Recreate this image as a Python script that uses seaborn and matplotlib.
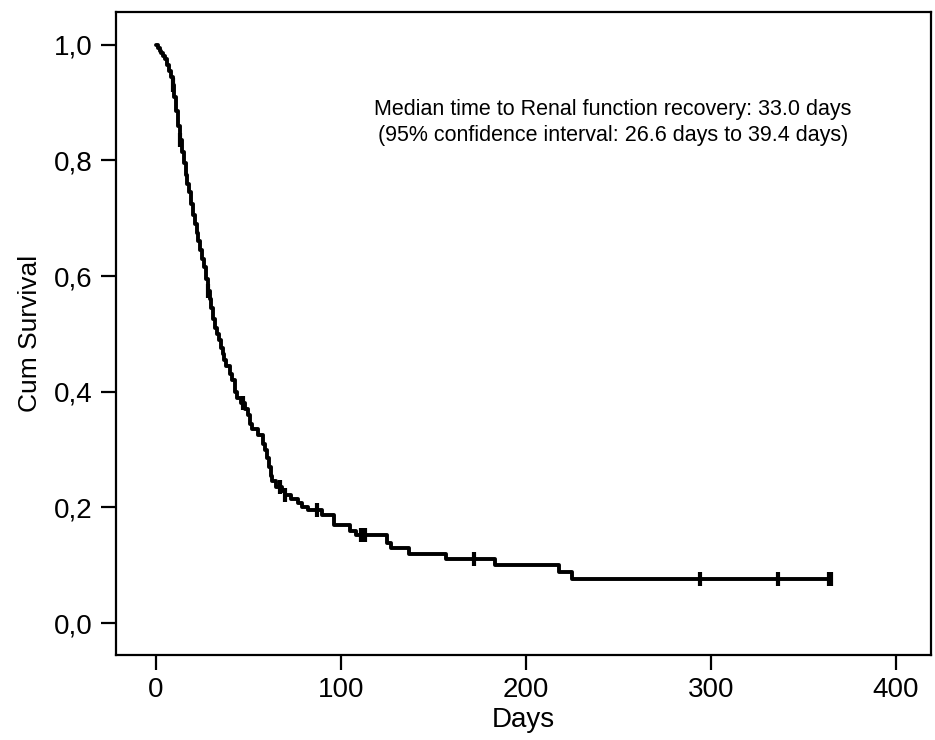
import matplotlib.pyplot as plt
import numpy as np
import pandas as pd
import seaborn as sns

# Kaplan-Meier estimate (day, survival after step)
days = [0, 1, 2, 3, 4, 5, 6, 7, 8, 9, 10, 11, 12, 13, 14, 15, 16, 17, 18,
        19, 20, 21, 22, 23, 24, 25, 26, 27, 28, 29, 30, 31, 32, 33, 34, 35,
        36, 37, 38, 40, 41, 43, 44, 46, 48, 50, 51, 52, 55, 58, 59, 60, 61,
        62, 63, 65, 68, 70, 73, 77, 79, 82, 90, 96, 105, 108, 125, 127, 137,
        157, 183, 218, 225, 365]
survival = [1.0, 0.995, 0.99, 0.985, 0.98, 0.975, 0.965, 0.955, 0.945, 0.93,
            0.91, 0.885, 0.86, 0.835, 0.815, 0.795, 0.775, 0.76, 0.745,
            0.725, 0.705, 0.69, 0.675, 0.66, 0.645, 0.63, 0.615, 0.595,
            0.575, 0.56, 0.545, 0.525, 0.51, 0.5, 0.49, 0.475, 0.465, 0.455,
            0.445, 0.43, 0.42, 0.40, 0.39, 0.38, 0.37, 0.36, 0.345, 0.335,
            0.325, 0.31, 0.30, 0.285, 0.27, 0.255, 0.245, 0.235, 0.228,
            0.222, 0.215, 0.208, 0.20, 0.195, 0.187, 0.17, 0.16, 0.152,
            0.138, 0.129, 0.12, 0.11, 0.10, 0.089, 0.077, 0.077]
censored_days = [9, 13, 28, 47, 67, 70, 87, 111, 113, 172, 294, 336, 364, 365]

x_ticks = [0, 100, 200, 300, 400]
y_ticks = [0.0, 0.2, 0.4, 0.6, 0.8, 1.0]
y_tick_labels = ['0,0', '0,2', '0,4', '0,6', '0,8', '1,0']

note = ('Median time to Renal function recovery: 33.0 days\n'
        '(95% confidence interval: 26.6 days to 39.4 days)')

sns.set_style('white')
plt.rcParams['font.family'] = ['Liberation Sans', 'DejaVu Sans']
plt.rcParams['text.color'] = 'black'
plt.rcParams['axes.labelcolor'] = 'black'
plt.rcParams['xtick.color'] = 'black'
plt.rcParams['ytick.color'] = 'black'

km = pd.DataFrame({'Days': days, 'Cum Survival': survival})
idx = np.searchsorted(days, censored_days, side='right') - 1
marks = pd.DataFrame({'Days': censored_days,
                      'Cum Survival': np.array(survival)[idx]})

fig = plt.figure(figsize=(9.35, 7.4), dpi=100)
ax = fig.add_axes([0.124, 0.115, 0.872, 0.869])

sns.lineplot(data=km, x='Days', y='Cum Survival', drawstyle='steps-post',
             estimator=None, color='black', lw=2.8, ax=ax)
sns.scatterplot(data=marks, x='Days', y='Cum Survival', marker='|', s=110,
                linewidth=3, color='black', ax=ax, zorder=3)

ax.set_xlim(-21.6, 419)
ax.set_ylim(-0.055, 1.057)
ax.set_xticks(x_ticks)
ax.set_yticks(y_ticks)
ax.set_yticklabels(y_tick_labels)

for side in ['left', 'right', 'top', 'bottom']:
    ax.spines[side].set_visible(True)
    ax.spines[side].set_color('black')
    ax.spines[side].set_linewidth(1.6)

ax.tick_params(axis='both', which='major', direction='out', length=11,
               width=1.6, color='black', labelcolor='black', labelsize=20,
               bottom=True, left=True, top=False, right=False)
ax.tick_params(axis='x', pad=5)
ax.tick_params(axis='y', pad=6)
ax.set_xlabel('Days', fontsize=20, labelpad=3)
ax.set_ylabel('Cum Survival', fontsize=19, labelpad=8)

ax.text(247, 0.866, note, ha='center', va='center', multialignment='center',
        fontsize=15.5, linespacing=1.3, color='black')

fig.savefig('out.png', dpi=100)
